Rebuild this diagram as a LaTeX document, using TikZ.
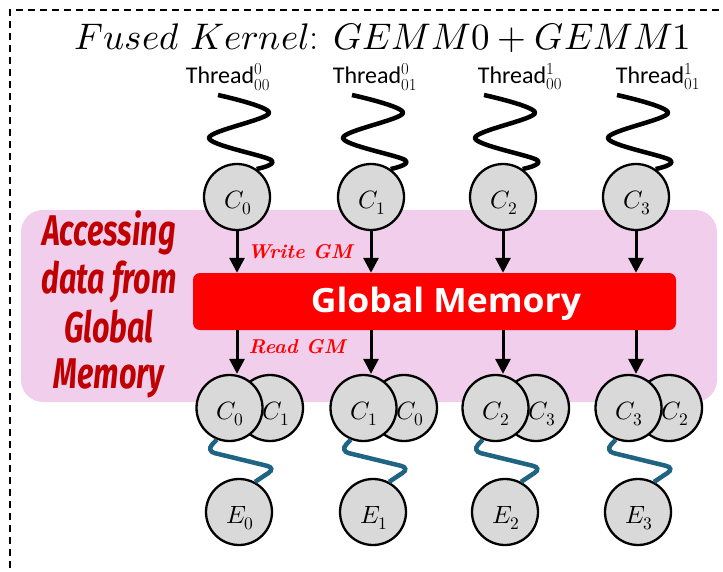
\documentclass[tikz,border=0pt]{standalone}
\usepackage{fontspec}
\usepackage{unicode-math}
\usetikzlibrary{arrows.meta}
\newfontfamily\calibri{Carlito}
\newfontfamily\narrowfont{Fira Sans}
\newfontfamily\gmfont{Open Sans}
\definecolor{cfill}{RGB}{217,217,217}
\definecolor{pinkbg}{RGB}{240,206,236}
\definecolor{gmred}{RGB}{255,0,0}
\definecolor{darkred}{RGB}{192,0,0}
\definecolor{wavblue}{RGB}{31,100,130}
\tikzset{
  cnode/.style={circle, draw=black, line width=2.3pt, fill=cfill, minimum size=66pt, inner sep=0pt},
  clabel/.style={font=\fontsize{25}{28}\selectfont, inner sep=0pt},
  blackwave/.style={line width=4.5pt, black, line join=round},
  bluewave/.style={line width=4.5pt, rounded corners=9pt, wavblue},
  arr/.style={line width=3pt, -{Triangle[length=15pt,width=15pt]}},
  thr/.style={font=\calibri\fontsize{24}{28}\selectfont, inner sep=0pt},
  gmlab/.style={font=\bfseries\itshape\fontsize{20}{24}\selectfont, text=gmred, inner sep=0pt},
  acc/.style={font=\narrowfont\bfseries\itshape\fontsize{43}{46}\selectfont, text=darkred, inner sep=0pt, anchor=base},
}
\begin{document}
\begin{tikzpicture}[x=1pt,y=-1pt]
\useasboundingbox (0,0) rectangle (723,571);
% dashed frame
\draw[dash pattern=on 7pt off 5pt, line width=1.3pt] (10,640) -- (10,10) -- (780,10);
% title
\node[inner sep=0pt, anchor=base, font=\fontsize{37}{42}\selectfont] (title) at (383,49) {$Fused~Kernel$: $GEMM0 + GEMM1$};
% pink background
\fill[pinkbg, rounded corners=22pt] (21,210) rectangle (717,402);
% global memory
\node[fill=gmred, rounded corners=7pt, minimum width=483pt, minimum height=57pt, inner sep=0pt] (gm) at (434.5,301.5) {};
\node[inner sep=0pt, anchor=base, text=white, font=\gmfont\bfseries\fontsize{33.5}{36}\selectfont] (gmtext) at (446,312) {\scalebox{1.06}[1]{Global Memory}};
% side text
\node[acc] (acc1) at (109,245) {\scalebox{0.71}[1]{Accessing}};
\node[acc] (acc2) at (109,293) {\scalebox{0.71}[1]{data from}};
\node[acc] (acc3) at (109,342) {\scalebox{0.71}[1]{Global}};
\node[acc] (acc4) at (109,388) {\scalebox{0.71}[1]{Memory}};
% write / read labels
\node[gmlab, anchor=base] (wgm) at (300,258) {Write GM};
\node[gmlab, anchor=base] (rgm) at (297,353) {Read GM};
% columns
\foreach \i/\x/\j/\sup/\sub/\tx in {0/237/1/0/00/228, 1/371/0/0/01/375, 2/503/3/1/00/520, 3/636/2/1/01/658}{
  \node[thr] (t\i) at (\tx,77) {Thread$^{\mathrm{\sup}}_{\mathrm{\sub}}$};
  \node[cnode] (c\i) at (\x,197) {};
  \node[clabel] (cl\i) at (\x+1,203) {$C_{\i}$};
  \draw[blackwave] plot[smooth, tension=0.55] coordinates {(\x-19,95) (\x+32,113) (\x-28,138) (\x+34,160) (c\i.55)};
  \draw[arr] (c\i) -- (c\i |- gm.north);
  \node[cnode] (b\i) at (\x+33,408) {};
  \node[clabel] (bl\i) at (\x+39,414) {$C_{\j}$};
  \node[cnode] (f\i) at (\x-7.5,408) {};
  \node[clabel] (fl\i) at (\x-6.5,414) {$C_{\i}$};
  \draw[arr] (gm.south -| c\i) -- (c\i |- f\i.north);
  \node[cnode] (e\i) at (\x+2,512) {};
  \node[clabel] (el\i) at (\x+3,518) {$E_{\i}$};
  \draw[bluewave] (f\i.-112) -- (\x-31,451) -- (\x+39,468) -- (e\i.62);
}
\end{tikzpicture}
\end{document}
